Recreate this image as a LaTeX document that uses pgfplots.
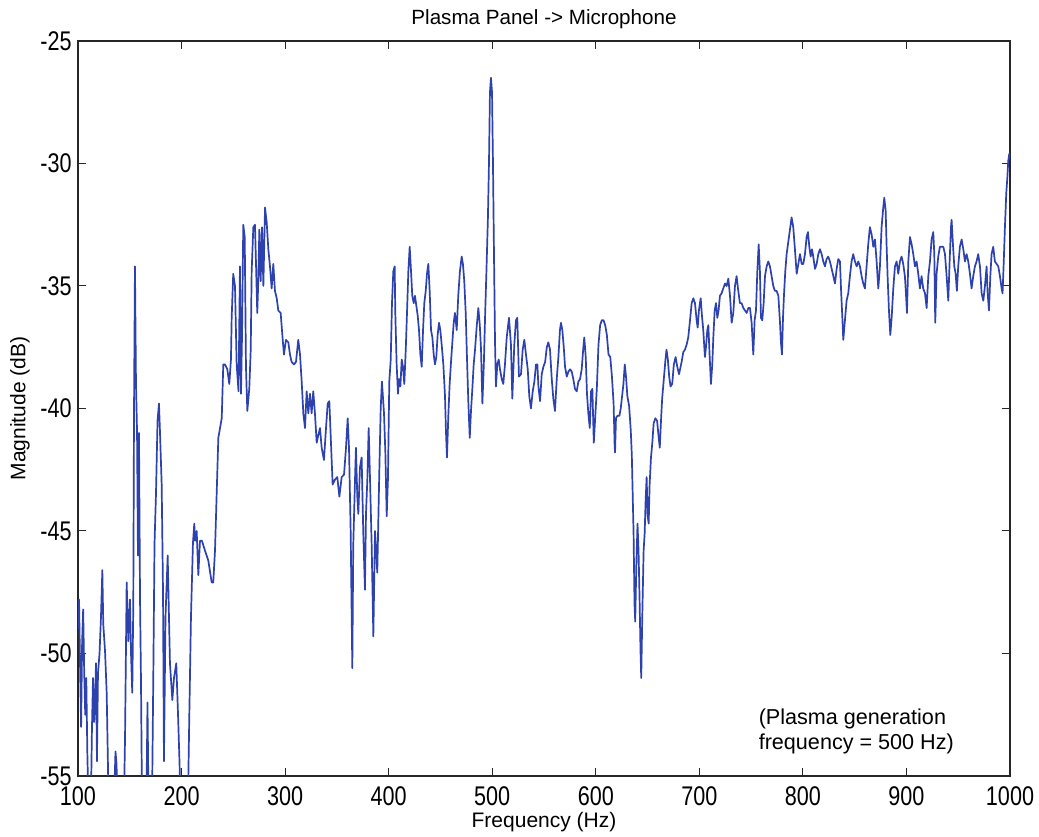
\documentclass[border=0pt]{standalone}
\usepackage{fontspec}
\setmainfont{Liberation Sans}
\newfontfamily\tickfont{Liberation Sans}[FakeStretch=0.8]
\usepackage{pgfplots}
\pgfplotsset{compat=1.18}
\definecolor{lineblue}{RGB}{45,65,175}
\begin{document}
\begin{tikzpicture}
\begin{axis}[
  name=ax,
  scale only axis,
  width=466pt, height=367.5pt,
  xmin=100, xmax=1000, ymin=-55, ymax=-25,
  xtick={100,200,...,1000}, ytick={-55,-50,...,-25},
  tick align=inside,
  major tick length=4pt,
  axis line style={line width=0.6pt, black!85},
  every tick/.style={black!85, line width=0.5pt},
  tick label style={font=\tickfont\fontsize{13.5}{15}\selectfont},
  yticklabel style={inner sep=3pt},
  /pgf/number format/assume math mode=true,
  /pgf/number format/1000 sep={},
  xticklabel style={inner sep=2.5pt, yshift=-2.5pt},
  every axis title shift=0pt,
  title={Plasma Panel -> Microphone},
  title style={at={(axis description cs:0.5,1)}, anchor=base, yshift=8pt, font=\fontsize{10.3}{12}\selectfont},
  xlabel={Frequency (Hz)},
  xlabel style={at={(axis description cs:0.5,-0.0626)}, anchor=center, font=\fontsize{10.5}{12}\selectfont},
  ylabel={Magnitude (dB)},
  ylabel style={at={(axis description cs:-0.0622,0.5)}, anchor=center, font=\fontsize{10.5}{12}\selectfont},
]
\addplot[lineblue, line width=0.85pt, line join=round] table {
x y
100.0 -49.0
101.0 -47.8
102.0 -50.5
103.0 -53.0
104.0 -49.5
105.0 -48.2
106.0 -50.8
107.0 -52.5
108.0 -51.0
109.0 -54.0
110.0 -56.0
112.5 -56.0
113.5 -53.0
114.5 -51.0
115.5 -52.8
116.4 -52.0
117.4 -50.4
118.3 -54.4
119.3 -50.8
120.8 -50.0
122.2 -48.5
123.5 -46.6
124.4 -48.8
126.1 -49.9
127.7 -51.6
128.7 -54.0
129.5 -56
134.8 -56
136.2 -54.0
137.2 -54.5
138.1 -56
144.4 -56
145.4 -53.5
147.0 -47.1
148.6 -49.5
150.2 -47.8
151.2 -50.0
152.4 -51.6
153.4 -48.0
154.1 -40.0
155.0 -34.2
156.0 -39.0
157.0 -40.9
157.9 -46.0
158.9 -41.0
159.9 -47.8
160.8 -51.0
161.8 -56
166.1 -56
167.1 -52.0
168.1 -56
171.5 -56
172.7 -51.0
173.9 -45.5
175.3 -43.5
176.8 -40.5
178.2 -39.8
179.2 -41.0
180.8 -43.1
182.1 -47.5
183.0 -54.4
184.5 -48.5
186.6 -46.0
188.8 -50.4
191.1 -51.9
192.7 -51.0
194.9 -50.4
196.6 -52.5
198.0 -54.4
199.0 -56
206.2 -56
207.5 -52.5
209.1 -48.5
211.0 -45.5
212.3 -44.7
213.0 -45.4
214.6 -45.0
216.2 -46.8
217.8 -45.4
219.7 -45.4
222.6 -45.8
225.8 -46.2
229.1 -47.1
230.6 -47.1
232.3 -45.8
233.9 -43.5
235.5 -41.2
238.8 -40.4
240.3 -38.2
241.9 -38.2
244.2 -38.4
246.1 -39.0
247.7 -38.0
248.4 -36.3
249.9 -34.5
251.6 -35.0
253.2 -38.2
255.0 -39.3
256.4 -34.2
257.4 -39.4
258.4 -37.0
259.6 -32.5
261.0 -33.0
262.2 -38.3
263.5 -40.1
265.4 -39.2
266.8 -37.6
267.7 -34.4
269.3 -32.6
270.9 -32.5
271.9 -34.1
273.1 -36.1
274.1 -34.8
275.1 -32.7
276.4 -34.8
277.7 -32.6
279.0 -35.0
280.6 -31.8
282.2 -32.4
283.8 -33.5
285.4 -34.2
287.0 -35.1
288.6 -34.1
290.2 -35.2
291.9 -35.5
293.4 -36.0
295.7 -36.1
297.7 -37.2
298.9 -37.8
300.8 -37.2
303.1 -37.3
304.7 -37.8
306.3 -38.1
308.6 -38.2
310.5 -38.1
312.7 -37.2
314.4 -37.8
316.0 -38.9
317.6 -40.2
319.2 -40.8
320.8 -39.3
322.4 -40.2
324.0 -39.4
325.6 -40.2
327.2 -39.3
328.8 -40.2
330.5 -41.4
332.0 -41.1
333.7 -40.8
335.3 -41.6
337.5 -42.1
339.5 -40.8
341.1 -39.8
342.7 -39.7
344.0 -41.1
345.9 -43.1
348.2 -42.9
350.4 -42.8
352.4 -43.6
354.6 -42.8
356.9 -42.7
358.8 -41.6
360.4 -40.4
361.7 -41.6
363.3 -45.0
364.9 -50.6
365.8 -45.6
367.5 -42.9
368.4 -41.6
369.7 -43.6
370.7 -44.3
372.3 -42.4
373.9 -42.0
375.5 -45.1
377.1 -47.4
378.1 -44.3
379.4 -42.9
380.7 -40.8
382.0 -42.9
383.6 -45.6
385.2 -49.3
386.8 -45.0
387.7 -45.6
389.0 -46.7
391.0 -42.5
392.3 -40.0
393.5 -38.9
395.5 -40.2
396.8 -41.8
398.1 -44.4
399.3 -42.9
400.6 -38.9
402.0 -38.0
403.2 -35.7
404.5 -34.4
405.8 -34.2
406.4 -36.1
407.7 -38.2
409.0 -39.4
410.0 -38.8
411.3 -39.1
412.6 -38.0
413.8 -38.3
415.1 -39.0
416.5 -37.6
417.7 -36.1
419.0 -34.4
420.3 -33.4
421.6 -34.4
422.8 -35.4
424.2 -35.7
425.4 -35.4
426.7 -35.8
428.0 -36.2
429.3 -36.8
430.6 -37.8
431.9 -38.3
433.2 -36.8
434.4 -35.7
435.8 -35.2
437.0 -34.5
438.3 -34.1
439.6 -35.2
440.9 -36.8
442.2 -37.1
443.5 -37.8
444.7 -38.2
446.0 -37.9
447.3 -37.0
448.6 -36.5
449.9 -36.8
451.2 -37.4
452.8 -38.2
454.4 -39.5
455.3 -40.9
456.3 -42.0
457.6 -40.3
458.9 -39.0
460.2 -38.1
461.5 -37.3
462.8 -36.5
464.0 -36.1
465.7 -36.8
467.2 -35.4
468.8 -34.4
470.5 -33.8
471.7 -34.1
473.0 -34.8
474.4 -36.1
475.6 -37.9
476.9 -39.7
478.3 -41.2
479.5 -40.1
480.8 -39.2
482.1 -38.2
483.4 -37.6
485.1 -36.6
486.6 -35.9
488.0 -36.6
489.2 -37.6
490.5 -39.8
491.9 -38.2
493.2 -36.1
494.4 -34.4
495.8 -32.3
496.9 -29.9
497.8 -27.1
498.8 -26.5
499.8 -27.1
500.7 -29.9
501.7 -33.7
502.7 -37.3
503.6 -39.1
504.9 -38.2
506.3 -38.0
507.5 -38.4
509.2 -38.8
510.7 -39.0
512.3 -38.2
514.0 -37.1
516.2 -36.3
518.1 -37.4
519.4 -39.6
521.3 -37.4
522.9 -36.4
524.2 -36.3
525.8 -38.7
527.8 -38.6
529.4 -37.6
531.0 -37.2
532.6 -37.8
534.3 -38.4
535.8 -39.5
537.4 -40.0
539.1 -39.3
540.7 -38.9
542.3 -38.2
543.6 -38.2
544.6 -39.1
546.2 -39.7
547.8 -38.6
549.4 -38.3
551.1 -38.1
552.7 -37.5
554.2 -37.3
555.8 -37.6
557.5 -38.8
559.0 -39.6
560.6 -40.1
562.3 -38.8
563.9 -37.9
565.4 -36.8
566.4 -36.5
567.7 -36.8
569.1 -37.5
570.3 -38.3
572.0 -38.7
573.5 -38.5
575.2 -38.4
576.8 -38.5
578.3 -38.8
579.9 -39.2
581.6 -39.3
583.2 -38.9
584.8 -38.8
586.4 -38.4
588.0 -37.5
588.9 -37.1
590.3 -37.9
591.5 -39.4
592.8 -40.2
594.2 -40.8
595.4 -39.3
596.7 -39.2
598.1 -41.4
599.4 -40.4
601.0 -39.2
602.6 -37.4
604.2 -36.6
605.8 -36.4
607.5 -36.4
609.1 -36.6
610.7 -37.0
612.3 -37.8
614.0 -37.9
615.6 -38.7
617.2 -39.8
618.2 -41.5
618.6 -41.8
619.5 -40.4
620.8 -40.3
622.8 -40.3
624.1 -40.0
625.4 -39.5
626.7 -39.0
628.0 -38.2
629.2 -38.7
630.5 -39.5
632.2 -39.9
633.8 -40.9
634.8 -41.9
635.8 -43.8
636.5 -45.1
637.4 -48.0
638.1 -48.7
639.1 -46.5
640.3 -44.7
641.3 -45.8
642.3 -47.8
643.2 -49.9
643.9 -51.0
644.9 -48.5
646.2 -45.8
647.2 -45.1
648.1 -43.8
649.1 -42.8
650.1 -44.4
651.1 -44.7
652.0 -43.1
653.3 -42.0
654.6 -41.4
655.9 -40.6
657.5 -40.4
659.2 -40.5
660.8 -41.2
661.8 -41.6
663.1 -40.4
664.1 -39.6
665.7 -38.8
667.3 -38.0
668.3 -37.6
669.6 -38.0
670.9 -38.7
672.2 -39.1
673.8 -39.0
675.4 -38.2
677.1 -37.9
678.7 -38.3
680.4 -38.6
682.9 -38.1
684.5 -37.7
686.1 -37.6
687.7 -37.4
689.3 -37.1
691.0 -36.4
692.6 -35.7
694.2 -35.5
695.8 -35.7
697.4 -36.4
698.4 -36.7
699.6 -36.0
701.3 -35.5
702.5 -36.2
703.8 -36.8
705.4 -37.9
706.4 -37.5
707.7 -36.8
708.7 -36.6
709.9 -37.8
711.2 -39.0
712.5 -38.2
713.5 -37.1
714.8 -36.0
716.1 -35.7
717.4 -36.3
718.6 -36.0
719.9 -35.4
721.5 -35.3
723.1 -35.1
724.8 -34.9
726.4 -35.0
728.0 -34.7
729.6 -35.4
731.2 -36.5
732.8 -36.1
734.4 -35.0
736.0 -34.6
737.6 -35.2
739.2 -35.7
740.8 -35.7
742.5 -35.9
744.1 -36.0
745.7 -36.1
747.3 -35.9
748.9 -35.9
750.5 -36.5
752.1 -37.8
753.4 -36.4
754.7 -36.0
756.0 -34.4
757.3 -33.3
758.5 -34.4
759.5 -36.3
760.8 -36.4
762.1 -35.7
763.4 -34.6
765.0 -34.2
766.6 -34.0
768.2 -34.2
769.8 -34.6
771.4 -35.0
773.0 -35.2
774.6 -35.2
776.3 -35.4
777.9 -36.5
778.8 -37.3
779.8 -37.8
780.8 -36.3
781.7 -35.4
783.0 -34.4
784.3 -33.7
785.9 -33.2
787.5 -32.7
789.1 -32.2
790.7 -32.6
792.3 -33.5
794.0 -34.5
795.6 -34.1
797.2 -33.7
798.8 -34.1
800.4 -34.1
802.0 -33.7
803.6 -33.0
804.9 -32.8
806.2 -33.4
807.5 -33.8
808.8 -33.5
810.0 -33.8
811.7 -34.3
813.3 -34.1
814.9 -33.7
816.5 -33.5
818.1 -33.7
819.7 -34.0
821.3 -34.2
822.9 -33.9
824.5 -33.8
826.1 -34.0
827.8 -34.3
829.4 -34.6
831.0 -34.9
832.6 -34.3
834.2 -33.9
835.8 -34.0
836.8 -35.1
838.1 -36.3
839.0 -37.2
840.6 -36.4
842.2 -35.6
843.8 -35.3
845.4 -34.6
847.0 -34.0
848.6 -33.7
850.3 -34.0
851.9 -34.2
853.5 -34.0
855.1 -34.2
856.7 -34.6
858.3 -34.9
859.9 -35.1
861.5 -34.2
863.1 -33.3
864.7 -32.6
866.4 -32.9
868.0 -33.4
869.6 -33.1
871.2 -34.0
872.8 -35.1
874.4 -34.2
876.0 -32.6
877.6 -31.8
878.6 -31.4
879.9 -31.9
880.8 -33.3
881.8 -34.6
883.1 -36.0
884.4 -37.0
885.7 -36.3
887.3 -35.1
888.9 -34.2
890.5 -34.0
892.1 -34.5
893.7 -34.0
895.3 -33.8
896.9 -34.1
898.5 -34.6
899.5 -35.3
900.5 -36.1
901.8 -34.0
903.4 -33.0
905.0 -33.3
906.6 -33.7
908.2 -34.2
909.8 -34.0
911.4 -34.5
913.0 -35.1
914.6 -34.6
916.2 -35.1
917.9 -35.3
919.5 -35.9
921.1 -34.6
922.7 -34.0
924.3 -33.1
925.9 -32.8
926.9 -33.7
927.8 -36.5
929.1 -34.5
930.7 -33.8
932.3 -33.4
933.9 -33.4
935.6 -33.4
937.2 -33.7
938.8 -34.6
940.4 -35.6
941.7 -34.0
943.0 -32.6
943.6 -32.3
944.9 -33.3
946.2 -34.2
947.5 -34.5
948.7 -35.2
950.0 -34.2
951.6 -33.4
953.3 -33.1
954.9 -33.5
956.5 -34.0
958.1 -33.7
959.7 -34.0
961.3 -34.5
962.9 -35.1
964.5 -34.6
966.1 -34.2
967.7 -34.0
969.3 -33.7
971.0 -34.2
972.6 -35.3
974.2 -35.6
975.8 -35.0
977.4 -34.2
978.4 -35.3
979.7 -36.0
981.0 -34.6
982.2 -33.7
983.8 -33.4
985.4 -34.0
987.1 -34.1
988.7 -34.2
990.3 -34.6
991.9 -35.1
992.8 -35.3
993.8 -34.2
995.1 -32.6
996.4 -31.2
997.4 -30.6
998.3 -29.9
999.3 -29.6
1000.0 -29.8
};
\node[anchor=west, align=left, inner sep=0pt, font=\fontsize{10.8}{12.5}\selectfont] at (axis cs:757,-53.2) {(Plasma generation\\frequency = 500 Hz)};
\end{axis}
\pgfresetboundingbox
\path ([xshift=-39pt,yshift=-30.5pt]ax.south west) rectangle ([xshift=14.5pt,yshift=20.5pt]ax.north east);
\end{tikzpicture}
\end{document}
